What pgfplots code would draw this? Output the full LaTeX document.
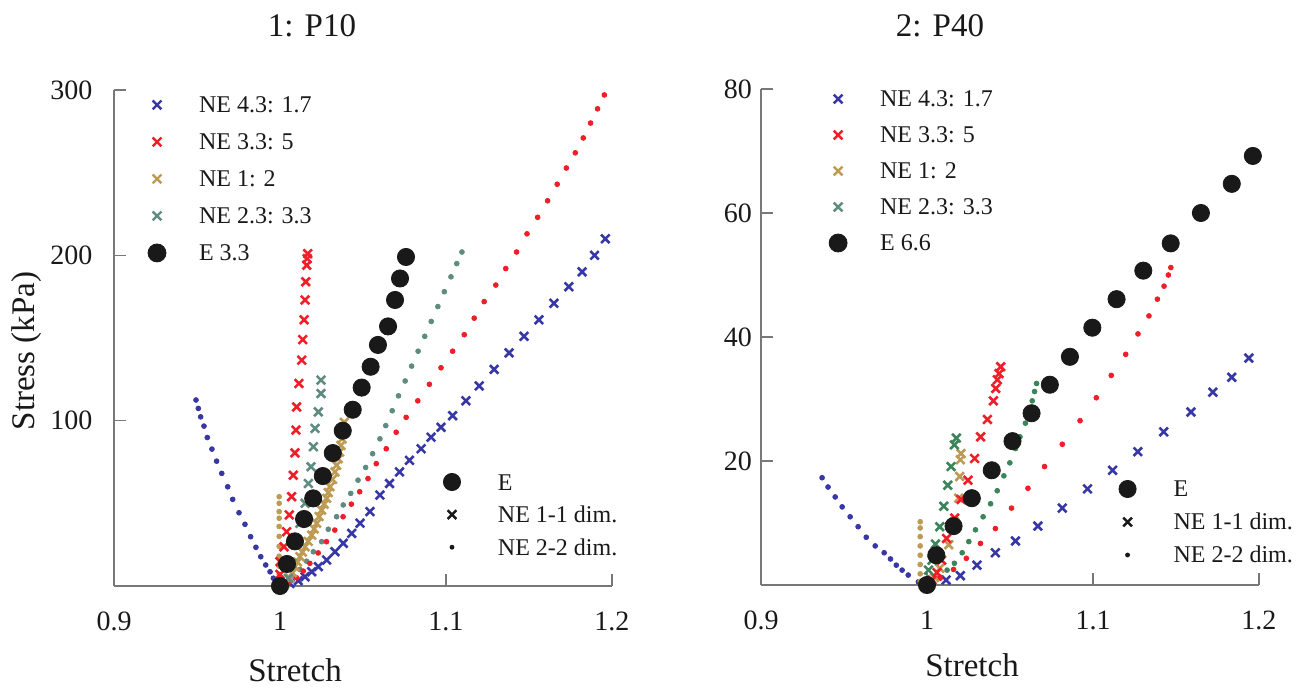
\documentclass[border=0pt]{standalone}
\usepackage{fontspec}
\setmainfont{Liberation Serif}
\newfontfamily\tickfont{Liberation Serif}
\usepackage{pgfplots}
\pgfplotsset{compat=1.18}

\definecolor{cBlue}{RGB}{55,55,165}
\definecolor{cRed}{RGB}{240,30,40}
\definecolor{cTan}{RGB}{190,155,85}
\definecolor{cTeal}{RGB}{95,140,128}
\definecolor{cTealR}{RGB}{60,132,90}
\definecolor{cBlk}{RGB}{25,25,25}
\definecolor{cAxis}{RGB}{120,120,120}
\definecolor{cText}{RGB}{25,25,25}

\pgfplotsset{
  xm/.style={only marks, mark=x, mark size=3pt, mark options={line width=1.3pt}, color=#1},
  xl/.style={only marks, mark=x, mark size=3.1pt, mark options={line width=1.2pt}, color=#1},
  dm/.style={only marks, mark=*, mark size=1.2pt, color=#1},
  em/.style={only marks, mark=*, mark size=4.3pt, color=cBlk},
  panel/.style={
    scale only axis, width=249pt, height=248pt,
    xmin=0.9, xmax=1.2, ymin=0,
    xtick={0.9,1,1.1,1.2},
    axis x line*=bottom, axis y line*=left,
    axis line style={cAxis, line width=0.8pt, -},
    tick style={cAxis, line width=0.8pt},
    tick align=inside, major tick length=6pt,
    clip=false,
    /pgf/number format/assume math mode=true,
    xticklabel={\tickfont\fontsize{14}{14}\selectfont\pgfmathprintnumber{\tick}},
    yticklabel={\tickfont\fontsize{14}{14}\selectfont\pgfmathprintnumber{\tick}},
    ticklabel style={text=cText},
    xticklabel style={yshift=-9.5pt},
    legend cell align=left,
    legend image code/.code={\path[draw=none,fill=none] (-5pt,-5pt) rectangle (21pt,5pt); \draw[##1] plot coordinates {(0pt,0pt)};},
    legend style={draw=none, fill=none, inner sep=0pt, outer sep=0pt, column sep=0pt, row sep=8.5pt,
      font=\fontsize{12}{12}\selectfont, text=cText,
      nodes={inner sep=0pt, text height=8pt, text depth=0pt}},
  },
  botleg/.style={
    panel, hide axis,
    legend image code/.code={\path[draw=none,fill=none] (-5pt,-5pt) rectangle (23pt,5pt); \draw[##1] plot coordinates {(0pt,0pt)};},
    legend style={row sep=6.3pt},
  },
}

\begin{document}
\begin{tikzpicture}
\useasboundingbox (0,0) rectangle (651.5pt,344pt);

% ---------- 1: P10 ----------
\begin{axis}[panel, at={(57pt,51pt)}, anchor=south west,
  ymax=300, ytick={100,200,300}, yticklabel style={xshift=-7.3pt},
  legend style={at={(0.0663,0.990)}, anchor=north west}]
\addlegendimage{xl=cBlue}\addlegendentry{NE 4.3: 1.7}
\addlegendimage{xl=cRed}\addlegendentry{NE 3.3: 5}
\addlegendimage{xl=cTan}\addlegendentry{NE 1: 2}
\addlegendimage{xl=cTeal}\addlegendentry{NE 2.3: 3.3}
\addlegendimage{em, mark size=4.5pt}\addlegendentry{E 3.3}

% NE 4.3: 1.7, 2-2 dim.
\addplot[dm=cBlue] coordinates {(0.9494,112.5) (0.9508,107.4) (0.9522,102.3) (0.9542,96.7) (0.9562,89.8)
 (0.9590,82.8) (0.9618,75.5) (0.9649,68.1) (0.9685,60.0) (0.9715,52.4) (0.9753,44.3) (0.9789,37.3)
 (0.9823,29.8) (0.9855,23.4) (0.9884,17.7) (0.9914,12.7) (0.9940,8.6) (0.9960,4.7) (0.9985,1.5)};
% NE 4.3: 1.7, 1-1 dim.
\addplot[xm=cBlue] coordinates {(1.000,0) (1.006,1.5) (1.011,3.2) (1.0151,5.6) (1.0191,8.6) (1.0231,11.7)
 (1.0281,15.7) (1.0331,20.7) (1.0381,25.8) (1.0432,31.8) (1.0482,38) (1.0542,45) (1.0602,55)
 (1.066,62) (1.072,69) (1.078,76) (1.085,83) (1.091,90) (1.097,96) (1.104,103) (1.112,112)
 (1.120,121) (1.129,131) (1.138,141) (1.147,151) (1.156,161) (1.165,171) (1.174,181) (1.182,190)
 (1.1895,200) (1.196,210)};
% NE 2.3: 3.3, 2-2 dim.
\addplot[dm=cTeal] coordinates {(1.004,2.5) (1.008,6) (1.012,10) (1.016,15) (1.0201,20.7) (1.0251,26.8)
 (1.0291,34.3) (1.0341,41.9) (1.0381,49) (1.0426,56) (1.047,64) (1.0516,71.7) (1.0558,80) (1.0602,89)
 (1.0637,97) (1.0676,106) (1.0714,115) (1.0754,124) (1.0793,133) (1.0832,142) (1.0872,151)
 (1.0911,160) (1.0951,169) (1.0990,178) (1.1030,187) (1.1065,195) (1.1096,202)};
% NE 3.3: 5, 2-2 dim.
\addplot[dm=cRed] coordinates {(1.005,2) (1.010,5) (1.014,9) (1.018,13.7) (1.023,20) (1.028,26.8)
 (1.033,33.8) (1.038,41.9) (1.043,49.5) (1.048,57) (1.053,65) (1.058,74) (1.064,83) (1.070,93)
 (1.076,102) (1.083,112) (1.090,122) (1.097,132) (1.104,142) (1.111,152) (1.117,162) (1.123,172)
 (1.130,182) (1.136,192) (1.1425,202) (1.1488,213) (1.1552,223) (1.1612,233) (1.1670,243)
 (1.1725,252.8) (1.1779,262) (1.1827,271) (1.1871,280) (1.1913,288.6) (1.1954,297)};
% NE 1: 2, 2-2 dim.
\addplot[dm=cTan] coordinates {(0.9995,3) (0.9995,7) (0.9995,12) (0.9995,18) (0.9995,24) (0.9995,30)
 (0.9995,36) (0.9995,41) (0.9995,45) (0.9995,50) (0.9995,54)};
% NE 1: 2, 1-1 dim.
\addplot[xm=cTan] coordinates {(1.003,1.5) (1.006,4.8) (1.0075,8) (1.009,11.7) (1.0105,14.5) (1.012,17.7)
 (1.0135,20.5) (1.0151,23.7) (1.017,27) (1.0191,30.8) (1.0206,34.5) (1.0221,37.9) (1.0236,42)
 (1.0251,45.9) (1.0266,49.5) (1.0281,53) (1.0291,56.5) (1.0301,60) (1.0316,64.5) (1.0331,69)
 (1.0341,73) (1.0351,77) (1.0359,81) (1.0367,85) (1.0374,89) (1.0381,93) (1.0387,99)};
% NE 2.3: 3.3, 1-1 dim.
\addplot[xm=cTeal] coordinates {(1.005,4.6) (1.007,13.7) (1.009,25.8) (1.012,37.9) (1.0151,50) (1.0171,62)
 (1.0187,72.1) (1.0201,84.2) (1.0211,95.3) (1.0231,105.3) (1.0247,116.4) (1.0247,124.5)};
% NE 3.3: 5, 1-1 dim.
\addplot[xm=cRed] coordinates {(1.000,0) (1.000,7) (1.000,14.7) (1.0024,23.7) (1.004,32.8) (1.0056,43)
 (1.007,54) (1.008,67) (1.009,80.5) (1.0096,94.3) (1.010,108.3) (1.0114,122.5) (1.0131,136.6)
 (1.0137,149) (1.0145,161) (1.0151,173) (1.0155,184) (1.0161,194) (1.0164,198) (1.0167,201)};
% E 3.3
\addplot[em] coordinates {(1.0,0) (1.0042,13.3) (1.0090,27) (1.0145,40.5) (1.0200,53) (1.0258,66.5)
 (1.0318,80.4) (1.0378,93.9) (1.0438,106.6) (1.0492,120) (1.0546,132.6) (1.0590,145.8) (1.0651,157)
 (1.0693,173) (1.0723,186) (1.0759,199)};
\end{axis}

\begin{axis}[botleg, at={(57pt,51pt)}, anchor=south west, ymax=300,
  legend style={at={(0.6586,0.2298)}, anchor=north west}]
\addlegendimage{em}\addlegendentry{E}
\addlegendimage{xl=cBlk}\addlegendentry{NE 1-1 dim.}
\addlegendimage{dm=cBlk, mark size=1pt}\addlegendentry{NE 2-2 dim.}
\end{axis}

% ---------- 2: P40 ----------
\begin{axis}[panel, at={(380.5pt,51.5pt)}, anchor=south west,
  ymax=80, ytick={20,40,60,80}, yticklabel style={xshift=-1pt},
  legend style={at={(0.1348,1.0)}, anchor=north west, row sep=8pt}]
\addlegendimage{xl=cBlue}\addlegendentry{NE 4.3: 1.7}
\addlegendimage{xl=cRed}\addlegendentry{NE 3.3: 5}
\addlegendimage{xl=cTan}\addlegendentry{NE 1: 2}
\addlegendimage{xl=cTeal}\addlegendentry{NE 2.3: 3.3}
\addlegendimage{em, mark size=4.5pt}\addlegendentry{E 6.6}

% NE 4.3: 1.7, 2-2 dim.
\addplot[dm=cBlue] coordinates {(0.9368,17.3) (0.9404,15.8) (0.9447,14.2) (0.9489,12.6) (0.9537,11)
 (0.9585,9.4) (0.9634,7.7) (0.9688,6.3) (0.9742,5.2) (0.9780,4.2) (0.9815,3.2) (0.9850,2.4)
 (0.9887,1.6) (0.9948,0.5)};
% NE 4.3: 1.7, 1-1 dim.
\addplot[xm=cBlue] coordinates {(1.0115,0.8) (1.0201,1.5) (1.0301,3.2) (1.0412,5.2) (1.0533,7.1)
 (1.0668,9.5) (1.0815,12.4) (1.0967,15.5) (1.1118,18.5) (1.127,21.5) (1.1426,24.7) (1.159,27.9)
 (1.1722,31.1) (1.1836,33.5) (1.1939,36.6)};
% NE 2.3: 3.3, 2-2 dim.
\addplot[dm=cTealR] coordinates {(1.003,0.4) (1.0077,1.3) (1.0121,2.4) (1.0165,3.5) (1.0212,5.2) (1.0252,7)
 (1.0292,8.9) (1.0338,11) (1.0383,13.1) (1.0423,15.2) (1.0463,17.6) (1.0499,19.7) (1.0533,22)
 (1.056,23.9) (1.0593,26.1) (1.0634,29.7) (1.0648,31.2) (1.066,32.5)};
% NE 3.3: 5, 2-2 dim.
\addplot[dm=cRed] coordinates {(1.008,1.1) (1.016,2.5) (1.0237,4.3) (1.0322,6.7) (1.0412,9.1) (1.0509,12.4)
 (1.0608,15.6) (1.0708,19.1) (1.0815,22.7) (1.0922,26.5) (1.102,30.2) (1.111,33.8) (1.1197,37.2)
 (1.1271,40.5) (1.1337,43.4) (1.1388,46.1) (1.1428,48.2) (1.1454,50) (1.1469,51.2)};
% NE 1: 2, 2-2 dim.
\addplot[dm=cTan] coordinates {(0.9959,0.6) (0.9959,1.8) (0.9959,3.3) (0.9959,4.8) (0.9959,6.3)
 (0.9959,7.8) (0.9959,9.2) (0.9959,10.2)};
% NE 1: 2, 1-1 dim.
\addplot[xm=cTan] coordinates {(1.0,0) (1.0045,1.2) (1.0077,2.7) (1.0131,6.5) (1.0165,10.2) (1.0191,14)
 (1.0197,17.5) (1.0201,20.2) (1.0205,21.2)};
% NE 2.3: 3.3, 1-1 dim.
\addplot[xm=cTealR] coordinates {(1.0,0) (1.0009,2.4) (1.0031,4) (1.0051,6.6) (1.0077,9.4) (1.0101,12.7)
 (1.0125,16.1) (1.0145,19.1) (1.0165,22.6) (1.0177,23.7)};
% NE 3.3: 5, 1-1 dim.
\addplot[xm=cRed] coordinates {(1.0,0) (1.003,0.8) (1.006,2) (1.0088,4) (1.0118,7.5) (1.0167,10.8)
 (1.0205,13.8) (1.0247,16.9) (1.0287,20.4) (1.0323,23.9) (1.0364,26.7) (1.04,29.7) (1.0414,31.7)
 (1.0424,33.1) (1.0434,34.1) (1.0444,35.2)};
% E 6.6
\addplot[em] coordinates {(1.0,0) (1.0056,4.8) (1.016,9.5) (1.027,14) (1.039,18.5) (1.0515,23.2)
 (1.063,27.7) (1.074,32.3) (1.0861,36.8) (1.0996,41.5) (1.1142,46.1) (1.1303,50.7) (1.1468,55.1)
 (1.165,60) (1.1836,64.7) (1.1963,69.2)};
\end{axis}

\begin{axis}[botleg, at={(380.5pt,51.5pt)}, anchor=south west, ymax=80,
  legend style={at={(0.716,0.2137)}, anchor=north west, row sep=6.5pt}]
\addlegendimage{em}\addlegendentry{E}
\addlegendimage{xl=cBlk}\addlegendentry{NE 1-1 dim.}
\addlegendimage{dm=cBlk, mark size=1pt}\addlegendentry{NE 2-2 dim.}
\end{axis}

% titles and axis labels
\node[anchor=base, font=\fontsize{16.5}{16.5}\selectfont, text=cText] at (156pt,325.5pt) {1: P10};
\node[anchor=base, font=\fontsize{16.5}{16.5}\selectfont, text=cText] at (470pt,325.5pt) {2: P40};
\node[rotate=90, font=\fontsize{16.5}{16.5}\selectfont, text=cText] at (13.5pt,168.5pt) {Stress (kPa)};
\node[anchor=base, font=\fontsize{16.5}{16.5}\selectfont, text=cText] at (147.5pt,3pt) {Stretch};
\node[anchor=base, font=\fontsize{16.5}{16.5}\selectfont, text=cText] at (486pt,5.5pt) {Stretch};
\end{tikzpicture}
\end{document}
